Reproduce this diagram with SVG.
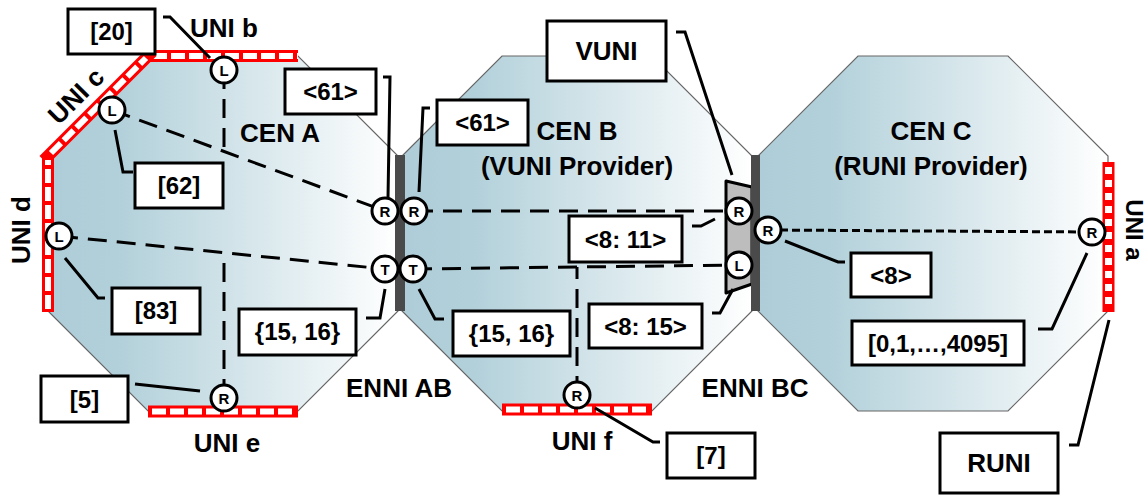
<svg xmlns="http://www.w3.org/2000/svg" width="1148" height="496" viewBox="0 0 1148 496">
<defs>
<linearGradient id="g" x1="0" y1="0" x2="1" y2="0">
<stop offset="0" stop-color="#aecdd8"/>
<stop offset="0.2" stop-color="#b2d0da"/>
<stop offset="1" stop-color="#ffffff"/>
</linearGradient>
</defs>
<style>
.oct{fill:url(#g);stroke:#666;stroke-width:1.2}
.enni{fill:#4a4a4a}
.uni{fill:none;stroke:#ff0000;stroke-width:12}
.unid{fill:none;stroke:#fff;stroke-width:6;stroke-dasharray:14 4}
.unisq{fill:none;stroke:#fff;stroke-width:7;stroke-dasharray:7 6}
.ep circle{fill:#fff;stroke:#000;stroke-width:3}
.ep text{font-family:"Liberation Sans",Arial,sans-serif;font-weight:bold;font-size:15px;text-anchor:middle;fill:#000}
.box rect{fill:#fff;stroke:#000;stroke-width:3}
.lbl{font-family:"Liberation Sans",Arial,sans-serif;font-weight:bold;font-size:24px;text-anchor:middle;fill:#000}
.big{font-size:26px}
.dash{fill:none;stroke:#000;stroke-width:3;stroke-dasharray:19 10}
.fine{fill:none;stroke:#000;stroke-width:3;stroke-dasharray:8 4}
.lead{fill:none;stroke:#000;stroke-width:3}
.vuni{fill:#bdbdbd;stroke:#000;stroke-width:3;stroke-linejoin:round}
</style>

<g id="cen-a">
<polygon class="oct" points="148,56 298,56 398,156 398,311 298,411 148,411 48,311 48,156"/>
<text class="lbl big" x="280" y="142">CEN A</text>
</g>
<g id="cen-b">
<polygon class="oct" points="502,56 652,56 752,156 752,311 652,411 502,411 402,311 402,156"/>
<text class="lbl big" x="577" y="140">CEN B</text>
<text class="lbl big" x="577" y="175">(VUNI Provider)</text>
</g>
<g id="cen-c">
<polygon class="oct" points="858,56 1008,56 1108,156 1108,311 1008,411 858,411 758,311 758,156"/>
<text class="lbl big" x="931" y="140">CEN C</text>
<text class="lbl big" x="931" y="175">(RUNI Provider)</text>
</g>

<g id="vuni-shape">
<polygon class="vuni" points="726,181 752,187 752,284 726,293"/>
</g>

<g id="enni-ab">
<rect class="enni" x="395" y="155" width="10" height="156"/>
<text class="lbl big" x="399" y="397">ENNI AB</text>
</g>
<g id="enni-bc">
<rect class="enni" x="751" y="155" width="9" height="156"/>
<text class="lbl big" x="755" y="397">ENNI BC</text>
</g>

<g id="uni-b">
<path class="uni" d="M148,56 H298"/>
<path class="unid" d="M153,56 H298"/>
<text class="lbl big" x="224" y="37">UNI b</text>
</g>
<g id="uni-c">
<path class="uni" d="M48,156 L148,56" stroke-linecap="square"/>
<path class="unid" d="M51,153 L146,58"/>
<text class="lbl big" transform="translate(76,96) rotate(-45)" x="0" y="9">UNI c</text>
</g>
<g id="uni-d">
<path class="uni" d="M48,312 V156"/>
<path class="unid" d="M48,309 V160"/>
<text class="lbl big" transform="translate(21,230) rotate(-90)" x="0" y="9">UNI d</text>
</g>
<g id="uni-e">
<path class="uni" d="M148,411.5 H298"/>
<path class="unid" d="M152,411.5 H296"/>
<text class="lbl big" x="227" y="452">UNI e</text>
</g>
<g id="uni-f">
<path class="uni" d="M502,409.5 H652"/>
<path class="unid" d="M506,409.5 H650"/>
<text class="lbl big" x="582" y="450">UNI f</text>
</g>
<g id="uni-a">
<path class="uni" d="M1108.5,162 V312"/>
<path class="unisq" d="M1108.5,167 V310"/>
<text class="lbl" style="font-size:24px" transform="translate(1134,230) rotate(90)" x="0" y="8.5">UNI a</text>
</g>

<g id="connectors">
<path class="dash" d="M112,110 L385,211"/>
<path class="dash" d="M224,70 V151"/>
<path class="dash" d="M59,236 L385,269"/>
<path class="dash" d="M224,398 V253"/>
<path class="dash" d="M414,211 H739"/>
<path class="dash" d="M413,269 L739,265"/>
<path class="dash" d="M577,395 V267"/>
<path class="fine" d="M768,230 L1092,232"/>
<polyline class="lead" points="163,17 170,17 210,58"/>
<polyline class="lead" points="383,77 390,77 388,198"/>
<polyline class="lead" points="115,130 123,172 133,172"/>
<polyline class="lead" points="65,258 98,298 105,298"/>
<polyline class="lead" points="385,289 380,318 366,318"/>
<polyline class="lead" points="135,384 200,391"/>
<polyline class="lead" points="430,108 423,108 419,192"/>
<polyline class="lead" points="676,32 685,32 732,175"/>
<polyline class="lead" points="692,226 701,226 715,219"/>
<polyline class="lead" points="712,313 720,313 733,289"/>
<polyline class="lead" points="419,289 435,319 444,319"/>
<polyline class="lead" points="595,408 653,442 660,442"/>
<polyline class="lead" points="785,241 838,262 845,262"/>
<polyline class="lead" points="1038,329 1052,329 1087,253"/>
<polyline class="lead" points="1069,445 1078,445 1109,320"/>
</g>

<g id="ep-lb" class="ep"><circle cx="224" cy="70" r="13"/><text x="224" y="75.5">L</text></g>
<g id="ep-lc" class="ep"><circle cx="112" cy="110" r="13"/><text x="112" y="115.5">L</text></g>
<g id="ep-ld" class="ep"><circle cx="59" cy="236" r="13"/><text x="59" y="241.5">L</text></g>
<g id="ep-ra1" class="ep"><circle cx="385" cy="211" r="13"/><text x="385" y="216.5">R</text></g>
<g id="ep-rb1" class="ep"><circle cx="414" cy="211" r="13"/><text x="414" y="216.5">R</text></g>
<g id="ep-ta1" class="ep"><circle cx="385" cy="269" r="13"/><text x="385" y="274.5">T</text></g>
<g id="ep-tb1" class="ep"><circle cx="413" cy="269" r="13"/><text x="413" y="274.5">T</text></g>
<g id="ep-re" class="ep"><circle cx="224" cy="398" r="13"/><text x="224" y="403.5">R</text></g>
<g id="ep-rf" class="ep"><circle cx="577" cy="395" r="13"/><text x="577" y="400.5">R</text></g>
<g id="ep-rv" class="ep"><circle cx="739" cy="211" r="13"/><text x="739" y="216.5">R</text></g>
<g id="ep-lv" class="ep"><circle cx="739" cy="265" r="13"/><text x="739" y="270.5">L</text></g>
<g id="ep-rc" class="ep"><circle cx="768" cy="230" r="13"/><text x="768" y="235.5">R</text></g>
<g id="ep-ra" class="ep"><circle cx="1092" cy="232" r="13"/><text x="1092" y="237.5">R</text></g>

<g id="box-20" class="box"><rect x="68" y="9" width="87" height="45"/><text class="lbl" x="111.5" y="40">[20]</text></g>
<g id="box-61a" class="box"><rect x="285" y="69" width="91" height="45"/><text class="lbl" x="330.5" y="100">&lt;61&gt;</text></g>
<g id="box-62" class="box"><rect x="135" y="163" width="88" height="45"/><text class="lbl" x="179" y="194">[62]</text></g>
<g id="box-83" class="box"><rect x="112" y="288" width="88" height="46"/><text class="lbl" x="156" y="319">[83]</text></g>
<g id="box-1516a" class="box"><rect x="239" y="309" width="117" height="46"/><text class="lbl" x="297.5" y="340">{15, 16}</text></g>
<g id="box-5" class="box"><rect x="41" y="376" width="87" height="46"/><text class="lbl" x="84.5" y="407.5">[5]</text></g>
<g id="box-61b" class="box"><rect x="437" y="100" width="91" height="45"/><text class="lbl" x="482.5" y="131">&lt;61&gt;</text></g>
<g id="box-vuni" class="box"><rect x="547" y="21" width="119" height="60"/><text class="lbl big" x="606.5" y="60">VUNI</text></g>
<g id="box-811" class="box"><rect x="569" y="216" width="113" height="46"/><text class="lbl" x="625.5" y="247.5">&lt;8: 11&gt;</text></g>
<g id="box-815" class="box"><rect x="589" y="304" width="113" height="44"/><text class="lbl" x="645.5" y="334.5">&lt;8: 15&gt;</text></g>
<g id="box-1516b" class="box"><rect x="453" y="311" width="117" height="45"/><text class="lbl" x="511.5" y="342">{15, 16}</text></g>
<g id="box-7" class="box"><rect x="667" y="433" width="88" height="45"/><text class="lbl" x="711" y="464">[7]</text></g>
<g id="box-8" class="box"><rect x="851" y="253" width="80" height="44"/><text class="lbl" x="891" y="283.5">&lt;8&gt;</text></g>
<g id="box-range" class="box"><rect x="852" y="321" width="172" height="44"/><text class="lbl" x="938" y="351.5">[0,1,…,4095]</text></g>
<g id="box-runi" class="box"><rect x="940" y="433" width="118" height="60"/><text class="lbl big" x="999" y="472">RUNI</text></g>
</svg>
